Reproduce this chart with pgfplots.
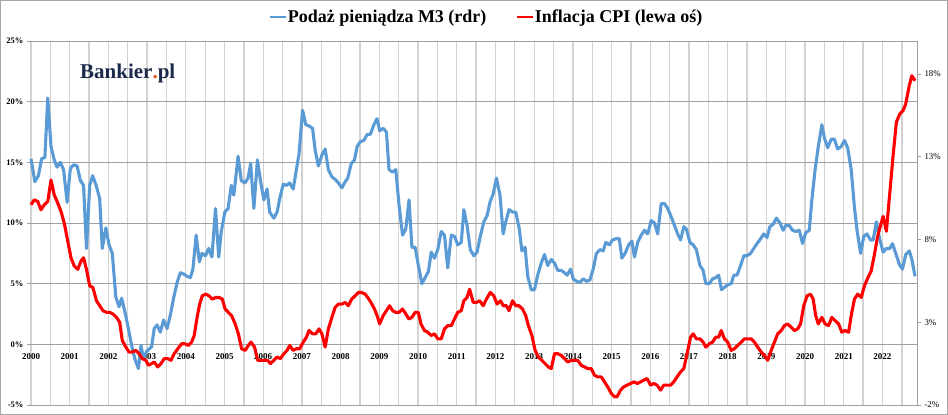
\documentclass[border=0pt]{standalone}
\usepackage{pgfplots}
\pgfplotsset{compat=1.18}
\usepackage{fontspec}
\setmainfont{Liberation Serif}
\definecolor{m3blue}{HTML}{5B9BD5}
\definecolor{cpired}{HTML}{FF0000}
\definecolor{gridv}{HTML}{D2D2D2}
\definecolor{gridh}{HTML}{A0A0A0}
\definecolor{navy}{HTML}{1B2A4A}
\definecolor{dotor}{HTML}{E8511E}
\begin{document}
\begin{tikzpicture}[x=1pt,y=1pt]
\useasboundingbox (0,0) rectangle (948,415);
\draw[color=black!35, line width=1pt] (0.5,0.5) rectangle (947.5,414.5);
\begin{axis}[
  at={(31pt,10pt)}, anchor=south west, scale only axis,
  width=886pt, height=364pt,
  xmin=0, xmax=274.7, ymin=-5, ymax=25,
  axis y line*=left, axis x line*=middle,
  hide obscured x ticks=false,
  axis line style={draw=none},
  xtick={0,12,...,264},
  xticklabels={2000,2001,2002,2003,2004,2005,2006,2007,2008,2009,2010,2011,2012,2013,2014,2015,2016,2017,2018,2019,2020,2021,2022},
  minor xtick={6,18,...,270},
  major x tick style={draw=none}, minor x tick style={draw=none},
  xticklabel style={font=\fontsize{9}{10}\selectfont\bfseries, anchor=north, yshift=-1.5pt},
  ytick={-5,0,5,10,15,20,25},
  yticklabels={-5\%,0\%,5\%,10\%,15\%,20\%,25\%},
  yticklabel style={font=\fontsize{8.5}{9}\selectfont\bfseries},
  tick align=outside, major tick length=4pt,
  major y tick style={draw=gridh, line width=0.8pt},
  xmajorgrids, xminorgrids, ymajorgrids,
  major x grid style={gridv, line width=1.3pt},
  minor x grid style={gridv, line width=1.3pt},
  major y grid style={gridh, line width=0.8pt},
  clip=false,
]
\addplot[m3blue, line width=3.1pt, line join=round] coordinates {
(0,15.3)(1.2,13.4)(2.3,13.9)(3.3,15.3)(4.3,15.4)(5.2,20.3)(6.2,16.3)(7.2,15.2)(8.1,14.6)(9.1,15.0)
(10.1,14.4)(11.2,11.7)(12.2,14.5)(13.2,14.8)(14.3,14.7)(15.3,13.5)(16.3,13.1)(17.2,7.9)(18.2,13.1)(19.1,13.9)
(20.2,13.1)(21.3,12.0)(22.1,7.9)(23.2,9.6)(24.2,8.2)(25.2,7.5)(26.3,3.9)(27.3,3.1)(28.1,3.8)(29.1,2.7)
(30.2,1.3)(31.2,-0.1)(32.2,-1.2)(33.3,-2.0)(34.1,-0.1)(34.9,-1.2)(35.8,-0.6)(36.6,-0.4)(37.4,-0.2)(38.2,1.3)
(39.1,1.6)(40.1,1.0)(41.1,2.0)(42.2,1.3)(43.2,2.4)(44.2,3.8)(45.3,5.1)(46.3,5.9)(47.3,5.8)(48.4,5.6)
(49.4,5.5)(50.2,6.2)(51.2,9.0)(52.2,6.8)(53.0,7.5)(54.1,7.3)(55.1,7.9)(56.1,7.2)(57.2,11.2)(58.2,7.2)
(59.0,9.3)(60.1,10.9)(61.1,11.2)(62.1,13.1)(62.9,12.3)(64.2,15.5)(65.2,13.5)(66.3,13.3)(67.3,13.7)(68.1,14.9)
(69.1,11.2)(70.2,15.2)(71.2,13.4)(72.2,11.9)(73.2,12.8)(74.0,10.9)(75.3,10.4)(76.3,10.9)(77.1,12.0)(78.2,13.2)
(79.2,13.1)(80.2,13.3)(81.3,12.8)(82.1,14.1)(83.1,15.7)(84.2,19.3)(85.2,18.1)(86.2,18.0)(87.3,17.8)(88.1,16.0)
(89.1,14.7)(90.2,15.6)(91.2,16.1)(92.2,14.4)(93.3,13.8)(94.3,13.6)(95.3,13.3)(96.4,12.9)(97.4,13.4)(98.2,13.7)
(99.3,14.9)(100.3,15.2)(101.1,16.3)(102.1,16.7)(103.2,16.8)(104.2,17.3)(105.2,17.3)(106.3,18.1)(107.3,18.6)(108.1,17.6)
(109.2,17.8)(110.2,17.5)(111.0,14.4)(112.1,14.2)(113.1,14.4)(114.1,11.5)(115.2,9.0)(116.2,9.5)(117.2,11.9)(118.1,8.0)
(119.1,8.0)(120.1,6.5)(121.2,5.0)(122.2,5.5)(123.2,6.0)(124.1,7.6)(125.1,7.1)(126.1,7.8)(127.2,9.3)(128.2,9.0)
(129.2,6.3)(130.3,9.0)(131.3,8.9)(132.3,8.2)(133.4,8.4)(134.2,11.1)(135.2,9.8)(136.2,7.8)(137.3,7.3)(138.3,7.6)
(139.3,8.9)(140.4,10.1)(141.4,10.6)(142.3,11.7)(143.3,12.4)(144.3,13.7)(145.4,12.3)(146.4,9.1)(147.2,10.1)(148.2,11.1)
(149.3,10.9)(150.3,10.9)(151.4,9.5)(152.2,7.7)(153.2,8.0)(154.0,5.6)(155.1,4.5)(156.1,4.5)(157.1,5.7)(158.2,6.7)
(159.2,7.4)(160.2,6.5)(161.3,7.0)(162.3,6.7)(163.3,6.1)(164.4,6.1)(165.4,5.9)(166.2,5.7)(167.3,6.2)(168.1,5.4)
(169.1,5.2)(170.2,5.1)(171.2,5.4)(172.2,5.2)(173.3,5.3)(174.3,6.2)(175.3,7.5)(176.4,7.8)(177.4,7.7)(178.2,8.4)
(179.3,8.2)(180.3,8.6)(181.3,8.7)(182.4,8.7)(183.2,7.1)(184.2,7.5)(185.3,8.2)(186.3,8.5)(187.1,7.2)(188.1,8.4)
(189.2,9.0)(190.2,9.4)(191.2,9.1)(192.3,10.2)(193.3,10.0)(194.3,9.1)(195.4,11.6)(196.4,11.6)(197.4,11.2)(198.5,10.5)
(199.5,9.8)(200.5,9.1)(201.4,8.6)(202.4,9.7)(203.2,9.5)(204.3,8.4)(205.3,8.2)(206.3,7.8)(207.4,6.5)(208.4,6.1)
(209.2,5.0)(210.3,5.0)(211.3,5.4)(212.3,5.5)(213.2,5.7)(214.1,4.5)(215.0,4.7)(216.0,4.9)(217.1,5.0)(217.9,5.7)
(218.9,5.7)(220.0,6.5)(221.0,7.3)(222.0,7.3)(223.1,7.5)(224.1,7.9)(225.1,8.3)(226.2,8.7)(227.2,9.1)(228.2,8.8)
(229.1,9.7)(230.1,9.9)(231.1,10.4)(232.2,10.0)(233.2,9.4)(234.0,9.8)(235.1,9.8)(236.1,9.4)(237.1,9.3)(238.2,9.4)
(239.2,8.3)(240.2,9.2)(241.3,9.4)(242.1,11.9)(243.1,14.4)(244.1,16.3)(245.2,18.1)(246.0,17.0)(247.0,16.2)(248.1,16.9)
(249.1,16.9)(250.1,16.1)(251.2,16.3)(252.2,16.8)(253.2,16.2)(254.3,14.4)(255.3,11.3)(256.1,9.4)(257.2,7.5)(258.2,8.9)
(259.2,9.1)(260.3,8.6)(261.1,8.6)(262.1,10.1)(263.2,8.6)(264.2,7.6)(265.2,7.9)(266.3,7.9)(267.1,8.3)(268.1,7.5)
(269.2,6.6)(270.2,6.2)(271.2,7.4)(272.3,7.7)(273.1,7.0)(274.1,5.6)
};
\end{axis}
\begin{axis}[
  at={(31pt,10pt)}, anchor=south west, scale only axis,
  width=886pt, height=364pt,
  xmin=0, xmax=274.7, ymin=-2, ymax=20,
  axis y line*=right, axis x line=none,
  y axis line style={draw=gridh, line width=0.9pt},
  ytick={-2,3,8,13,18},
  yticklabels={-2\%,3\%,8\%,13\%,18\%},
  yticklabel style={font=\fontsize{8.8}{9}\selectfont},
  tick align=outside, major tick length=4pt,
  major y tick style={draw=gridh, line width=0.8pt},
  clip=false,
  legend columns=2,
  legend style={at={(0.5135,1)}, anchor=center, yshift=24pt, draw=none, fill=none,
    font=\fontsize{18}{20}\selectfont\bfseries,
    nodes={inner xsep=1pt},
    /tikz/every even column/.append style={column sep=28pt}},
  legend image code/.code={\draw[#1, line width=2.4pt] (0pt,0pt) -- (16pt,0pt);},
]
\addlegendimage{m3blue}
\addlegendentry{Podaż pieniądza M3 (rdr)}
\addplot[cpired, line width=3.1pt, line join=round] coordinates {
(0,10.1)(1.0,10.4)(2.1,10.3)(3.1,9.8)(4.1,10.1)(5.2,10.3)(6.2,11.6)(7.2,10.7)(8.3,10.2)(9.3,9.7)
(10.3,9.0)(11.2,8.1)(12.4,6.9)(13.4,6.4)(14.5,6.2)(15.5,6.7)(16.3,6.9)(17.2,6.2)(18.2,5.2)(19.2,5.1)
(20.3,4.3)(21.3,4.0)(22.3,3.7)(23.4,3.6)(24.4,3.6)(25.4,3.5)(26.5,3.3)(27.5,3.0)(28.3,1.9)(29.4,1.5)
(30.4,1.2)(31.4,1.2)(32.5,1.3)(33.5,1.1)(34.5,0.8)(35.6,0.7)(36.4,0.4)(37.4,0.5)(38.2,0.6)(39.3,0.3)
(40.3,0.5)(41.3,0.8)(42.4,0.8)(43.4,0.7)(44.4,1.1)(45.5,1.4)(46.7,1.7)(47.7,1.7)(48.8,1.6)(49.8,1.8)
(50.6,2.2)(51.5,3.3)(52.3,4.1)(53.1,4.6)(54.2,4.7)(55.2,4.6)(56.2,4.4)(57.3,4.5)(58.3,4.5)(59.3,4.4)
(60.2,3.8)(61.2,3.6)(62.2,3.4)(63.3,2.9)(64.3,2.3)(65.3,1.4)(66.4,1.3)(67.4,1.6)(68.2,1.8)(69.3,1.5)
(70.3,0.7)(71.2,0.7)(72.4,0.7)(73.4,0.7)(74.2,0.5)(75.3,0.7)(76.3,0.9)(77.3,0.8)(78.4,1.1)(79.4,1.3)
(80.2,1.6)(81.3,1.3)(82.3,1.4)(83.3,1.4)(84.4,1.8)(85.4,2.1)(86.2,2.5)(87.3,2.3)(88.3,2.3)(89.3,2.6)
(90.2,2.3)(91.2,1.5)(92.2,2.6)(93.3,3.3)(94.3,3.9)(95.3,4.1)(96.4,4.1)(97.4,4.2)(98.4,4.0)(99.4,4.4)
(100.5,4.6)(101.5,4.8)(102.5,4.8)(103.6,4.7)(104.4,4.5)(105.4,4.2)(106.5,3.8)(107.3,3.4)(108.1,2.9)(109.2,3.4)
(110.2,3.7)(111.2,4.0)(112.1,3.7)(113.1,3.6)(114.1,3.6)(115.2,3.8)(116.2,3.5)(117.2,3.2)(118.1,3.3)(119.1,3.6)
(120.1,3.6)(120.9,2.9)(122.0,2.5)(123.0,2.4)(124.1,2.2)(125.1,2.3)(126.1,2.0)(127.2,2.0)(128.2,2.6)(129.2,2.8)
(130.3,2.8)(131.3,3.2)(132.3,3.6)(133.4,3.7)(134.2,4.3)(135.2,4.5)(136.0,5.0)(137.1,4.2)(138.1,4.2)(139.1,4.3)
(140.2,4.0)(141.2,4.4)(142.4,4.8)(143.5,4.6)(144.5,4.1)(145.6,4.3)(146.4,4.0)(147.4,4.0)(148.2,3.7)(149.3,4.3)
(150.3,4.0)(151.3,4.0)(152.4,3.8)(153.4,3.4)(154.2,2.8)(155.3,2.2)(156.3,1.3)(157.3,0.9)(158.4,0.7)(159.4,0.5)
(160.4,0.3)(161.3,0.2)(162.3,1.1)(163.3,1.1)(164.4,1.0)(165.4,0.8)(166.4,0.6)(167.5,0.7)(168.5,0.7)(169.5,0.7)
(170.6,0.4)(171.6,0.3)(172.6,0.2)(173.7,0.2)(174.7,-0.2)(175.7,-0.3)(176.8,-0.3)(177.8,-0.6)(178.8,-0.9)(179.9,-1.3)
(180.9,-1.5)(181.7,-1.5)(182.8,-1.1)(183.8,-0.9)(184.8,-0.8)(185.9,-0.7)(186.9,-0.6)(188.0,-0.7)(189.0,-0.6)(190.0,-0.5)
(191.0,-0.4)(192.1,-0.8)(193.1,-0.7)(194.1,-0.8)(195.2,-1.1)(196.2,-0.8)(197.2,-0.8)(198.3,-0.8)(199.3,-0.6)(200.3,-0.3)
(201.4,0.0)(202.4,0.2)(203.4,1.1)(204.5,2.1)(205.3,2.3)(206.3,2.0)(207.4,2.0)(208.4,1.8)(209.2,1.5)(210.3,1.7)
(211.3,1.8)(212.3,2.1)(213.2,2.1)(214.0,2.5)(215.0,2.0)(216.0,1.8)(217.1,1.3)(218.1,1.4)(219.1,1.6)(220.2,1.8)
(221.2,2.0)(222.2,2.0)(223.3,2.0)(224.3,1.8)(225.3,1.5)(226.4,1.2)(227.4,1.0)(228.4,0.7)(229.5,1.3)(230.5,1.8)
(231.5,2.3)(232.6,2.5)(233.6,2.8)(234.6,2.9)(235.7,2.7)(236.7,2.5)(237.7,2.6)(238.6,2.9)(239.6,4.0)(240.6,4.6)
(241.7,4.7)(242.5,4.4)(243.3,3.4)(244.1,2.9)(245.2,3.3)(246.2,2.9)(247.3,2.8)(248.3,3.3)(249.3,3.1)(250.4,2.9)
(251.4,2.4)(252.4,2.5)(253.5,2.4)(254.3,3.4)(255.3,4.4)(256.3,4.7)(257.4,4.5)(258.4,5.2)(259.5,5.7)(260.5,6.1)
(261.5,7.1)(262.5,8.2)(263.6,9.0)(264.2,9.4)(265.2,8.5)(266.3,10.9)(267.3,13.1)(268.3,15.1)(269.4,15.6)(270.4,15.8)
(271.2,16.2)(272.3,17.3)(273.1,17.9)(274.1,17.6)
};
\addlegendentry{Inflacja CPI (lewa oś)}
\end{axis}
\node[anchor=base west, inner sep=0pt, font=\fontsize{21}{21}\selectfont\bfseries, text=navy] at (80,336) {Bankier\textcolor{dotor}{.}pl};
\end{tikzpicture}
\end{document}
